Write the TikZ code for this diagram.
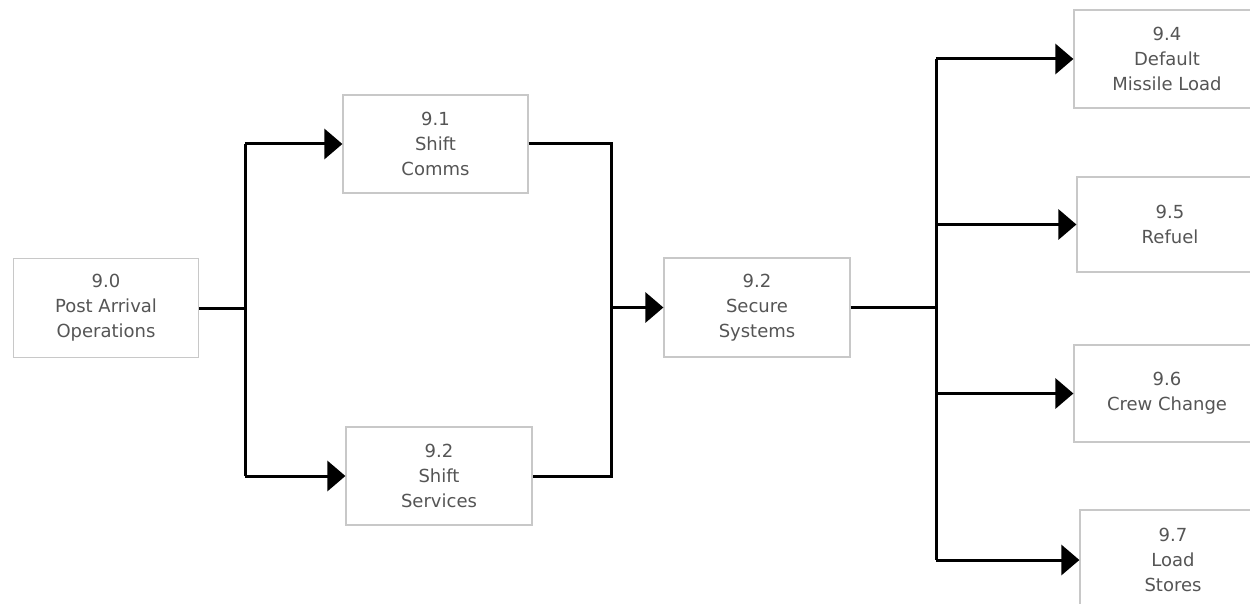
\documentclass[tikz,border=0pt]{standalone}
\usepackage{fontspec}
\setmainfont{DejaVu Sans}
\usetikzlibrary{arrows.meta}
\definecolor{boxline}{RGB}{200,200,200}
\definecolor{txt}{RGB}{85,85,85}
\tikzset{
  blk/.style={draw=boxline, line width=1.2pt, fill=white, inner sep=0pt,
    align=center, text=txt, font=\fontsize{18}{25}\selectfont,
    minimum width=186pt, minimum height=98pt},
  conn/.style={line width=3pt, black},
  arr/.style={conn, -{Triangle[length=18pt,width=30pt]}, shorten >=0pt}
}
\begin{document}
\begin{tikzpicture}[x=1pt,y=-1pt]
\clip (0,0) rectangle (1250,604);
\fill[white] (0,0) rectangle (1250,604);
\node[blk, minimum width=185pt, minimum height=99pt] (n90) at (106,308) {9.0\\Post Arrival\\Operations};
\node[blk, minimum width=185pt] (n91) at (435.5,144) {9.1\\Shift\\Comms};
\node[blk] (n92s) at (439,476) {9.2\\Shift\\Services};
\node[blk, minimum height=99pt] (nsec) at (757,307.5) {9.2\\Secure\\Systems};
\node[blk] (n94) at (1167,59) {9.4\\Default\\Missile Load};
\node[blk, minimum height=95pt] (n95) at (1170,224.5) {9.5\\Refuel};
\node[blk, minimum height=97pt] (n96) at (1167,393.5) {9.6\\Crew Change};
\node[blk, minimum height=100pt] (n97) at (1173,560) {9.7\\Load\\Stores};
\coordinate (ja) at (245,308);
\coordinate (jm) at (611,307.5);
\coordinate (jb) at (936,307.5);
% left fork
\draw[conn] (n90.east) -- (ja);
\draw[conn] (ja |- n91.west) -- (ja |- n92s.west);
\draw[arr] (ja |- n91.west) -- (n91.west);
\draw[arr] (ja |- n92s.west) -- (n92s.west);
% merge
\draw[conn] (n91.east) -| (jm) |- (n92s.east);
\draw[arr] (jm) -- (nsec.west);
% right fork
\draw[conn] (nsec.east) -- (jb);
\draw[conn] (jb |- n94.west) -- (jb |- n97.west);
\draw[arr] (jb |- n94.west) -- (n94.west);
\draw[arr] (jb |- n95.west) -- (n95.west);
\draw[arr] (jb |- n96.west) -- (n96.west);
\draw[arr] (jb |- n97.west) -- (n97.west);
\end{tikzpicture}
\end{document}
